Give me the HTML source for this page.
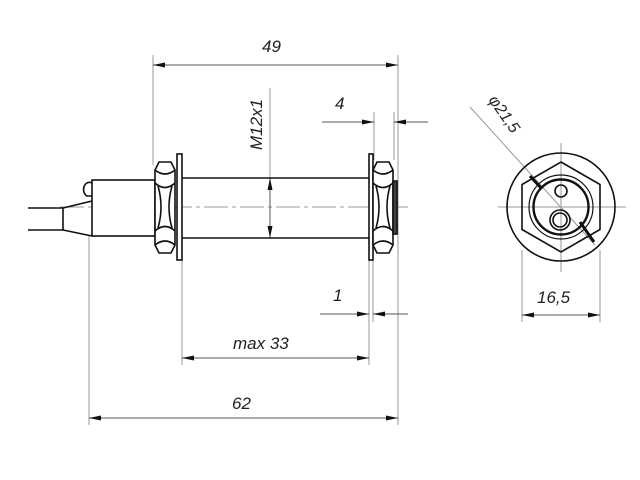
<!DOCTYPE html>
<html><head><style>body{margin:0;background:#fff}svg{display:block}text{font-family:"Liberation Sans",sans-serif;font-style:italic;fill:#222}</style></head>
<body>
<svg width="640" height="480" viewBox="0 0 640 480" xmlns="http://www.w3.org/2000/svg">
<defs>
<marker id="a" viewBox="0 0 12 6" refX="12" refY="3" markerWidth="12" markerHeight="6" orient="auto-start-reverse" markerUnits="userSpaceOnUse"><path d="M0,0.5 L12,3 L0,5.5 Z" fill="#111"/></marker>
</defs>
<g stroke="#999" stroke-width="1" fill="none">
<line x1="153" y1="55" x2="153" y2="165"/>
<line x1="398" y1="55" x2="398" y2="425"/>
<line x1="374" y1="112" x2="374" y2="160"/>
<line x1="394" y1="112" x2="394" y2="160"/>
<line x1="89" y1="236" x2="89" y2="425"/>
<line x1="182" y1="255" x2="182" y2="365"/>
<line x1="369" y1="255" x2="369" y2="365"/>
<line x1="373" y1="255" x2="373" y2="322"/>
<line x1="522" y1="250" x2="522" y2="322"/>
<line x1="600" y1="250" x2="600" y2="322"/>
<line x1="270" y1="88" x2="270" y2="178"/>
<line x1="60" y1="207" x2="410" y2="207" stroke-dasharray="24,4,4,4"/>
<line x1="498" y1="207" x2="626" y2="207"/>
<line x1="561" y1="143" x2="561" y2="272"/>
<line x1="470" y1="107" x2="595" y2="245"/>
</g>
<g stroke="#555" stroke-width="1" fill="none">
<line x1="153" y1="65" x2="398" y2="65" marker-start="url(#a)" marker-end="url(#a)"/>
<line x1="322" y1="122" x2="374" y2="122" marker-end="url(#a)"/>
<line x1="394" y1="122" x2="428" y2="122" marker-start="url(#a)"/>
<line x1="320" y1="314" x2="369" y2="314" marker-end="url(#a)"/>
<line x1="373" y1="314" x2="408" y2="314" marker-start="url(#a)"/>
<line x1="182" y1="358" x2="369" y2="358" marker-start="url(#a)" marker-end="url(#a)"/>
<line x1="89" y1="418" x2="398" y2="418" marker-start="url(#a)" marker-end="url(#a)"/>
<line x1="522" y1="315" x2="600" y2="315" marker-start="url(#a)" marker-end="url(#a)"/>
<line x1="270" y1="178" x2="270" y2="238" marker-start="url(#a)" marker-end="url(#a)"/>
</g>
<g stroke="#111" stroke-width="1.6" fill="none">
<line x1="28" y1="208" x2="63" y2="208"/><line x1="28" y1="230" x2="63" y2="230"/>
<line x1="63" y1="208" x2="63" y2="230"/>
<path d="M63,208 L92,201 M63,230 L92,236"/>
<path d="M92,196 L87,196 A5,6 0 0 1 92,183" />
<rect x="92" y="180" width="63" height="56" fill="#fff"/>
<g id="nut">
<path d="M155,170 L159,162 L171,162 L175,170 L175,245 L171,253 L159,253 L155,245 Z" fill="#fff"/>
<path d="M155,170 Q165,178 175,170 M155,183 Q165,192 175,183 M155,231 Q165,222 175,231 M155,245 Q165,237 175,245 M158,186 Q164,207 158,228 M172,186 Q166,207 172,228"/>
</g>
<rect x="177" y="154" width="5" height="106" fill="#fff"/>
<line x1="182" y1="178" x2="369" y2="178"/><line x1="182" y1="238" x2="369" y2="238"/>
<rect x="369" y="154" width="4" height="106" fill="#fff"/>
<use href="#nut" transform="translate(218,0)"/>
<rect x="393" y="181" width="4" height="53" fill="#444"/>
<circle cx="561" cy="207" r="54"/>
<polygon points="561,162 600,184.5 600,229.5 561,252 522,229.5 522,184.5"/>
<circle cx="561" cy="207" r="32" stroke-width="1.2"/>
<circle cx="561" cy="207" r="27.5" stroke-width="2.4"/>
<circle cx="561" cy="191" r="6"/>
<circle cx="560" cy="220" r="10"/>
<circle cx="560" cy="220" r="7"/>
</g>
<path d="M530,176 L542,189 M580,222 L594,242" stroke="#111" stroke-width="3"/>
<text x="262" y="52" font-size="17">49</text>
<text x="335" y="109" font-size="17">4</text>
<text x="333" y="301" font-size="17">1</text>
<text x="233" y="349" font-size="17">max 33</text>
<text x="232" y="409" font-size="17">62</text>
<text x="537" y="303" font-size="17">16,5</text>
<text transform="translate(262,150) rotate(-90)" font-size="17">M12x1</text>
<text transform="translate(488,100) rotate(55)" font-size="16">φ21,5</text>
</svg>
</body></html>
